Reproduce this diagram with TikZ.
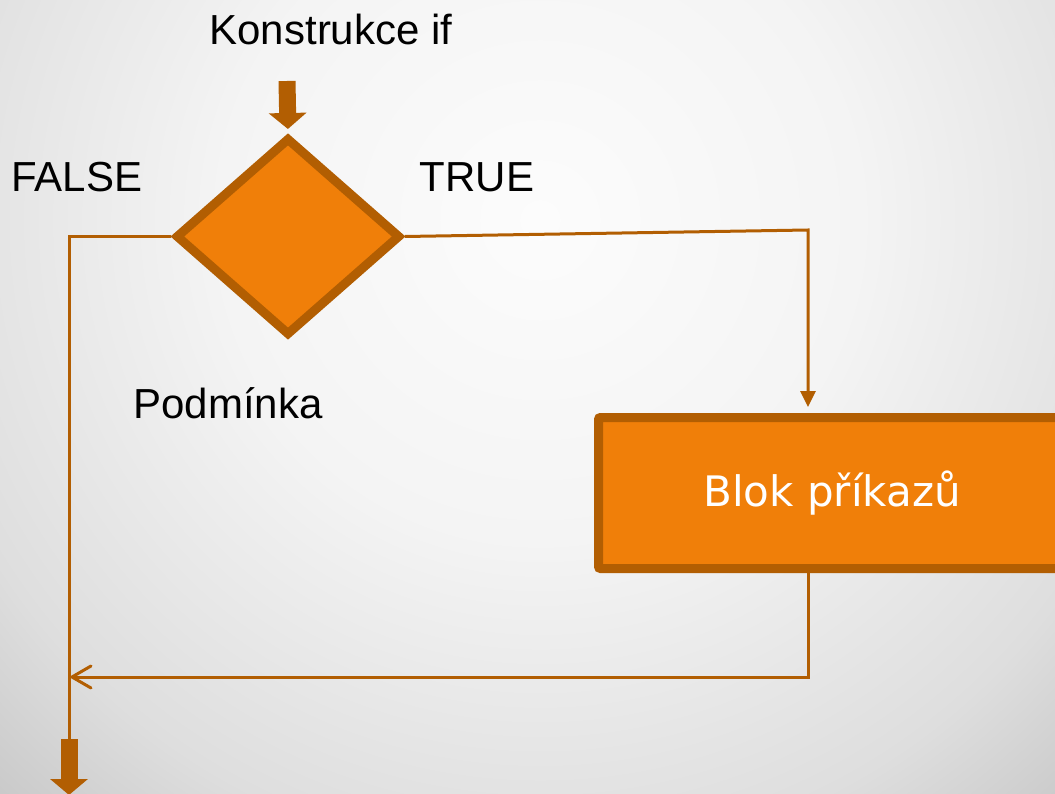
\documentclass[tikz,border=0pt]{standalone}
\usepackage{fontspec}
\setmainfont{Liberation Sans}
\newfontfamily\verdfont{DejaVu Sans}
\usetikzlibrary{shapes.geometric,arrows.meta}
\definecolor{ofill}{RGB}{240,127,9}
\definecolor{odark}{RGB}{178,94,2}
\definecolor{bgA}{RGB}{252,252,252}
\definecolor{bgB}{RGB}{244,244,244}
\definecolor{bgC}{RGB}{222,222,222}
\definecolor{bgD}{RGB}{200,200,200}
\pgfdeclareradialshading{bgshade}{\pgfpointorigin}{color(0bp)=(bgA); color(10bp)=(bgB); color(20bp)=(bgC); color(25bp)=(bgD); color(50bp)=(bgD)}
\pgfdeclarelayer{back}
\pgfdeclarelayer{conn}
\pgfsetlayers{back,conn,main}
\begin{document}
\begin{tikzpicture}[x=1pt,y=-1pt,
  lbl/.style={font=\fontsize{42}{48}\selectfont, inner sep=0pt, anchor=base, text=black},
  decision/.style={diamond, draw=odark, fill=ofill, line width=9pt, inner sep=0pt,
    minimum width=225pt, minimum height=198pt},
  blockbox/.style={rectangle, draw=odark, fill=ofill, line width=9pt, inner sep=0pt,
    rounded corners=2pt, minimum width=467pt, minimum height=151pt,
    text=white, font=\verdfont\fontsize{42}{48}\selectfont},
  thinline/.style={draw=odark, line width=3pt},
  blockarrow/.style={draw=odark, line width=17pt, -{Triangle[width=37pt,length=16pt]}}
]
\useasboundingbox (0,0) rectangle (1055,794);
\begin{pgfonlayer}{back}
  \clip (0,0) rectangle (1055,794);
  \shade[shading=bgshade] (540,220) circle (800);
\end{pgfonlayer}

% nodes
\node[decision] (d) at (288,236.5) {};
\node[blockbox] (b) at (832,493) {Blok příkazů};

% labels
\node[lbl] (tk) at (331,45) {Konstrukce if};
\node[lbl] (tf) at (77,192) {FALSE};
\node[lbl] (tt) at (477,192) {TRUE};
\node[lbl] (tp) at (228,418) {Podmínka};

% coordinates
\coordinate (tin) at (287,81);
\coordinate (tc) at (808,230);
\coordinate (fc) at (69,236.5);
\coordinate (lc) at (808,677);
\coordinate (out) at (69,739);
\coordinate (endp) at (69,795);

\begin{pgfonlayer}{conn}
  \draw[blockarrow, shorten >=4pt] (tin) -- (d.north);
  \draw[thinline] (d.west) -- (fc) -- (out);
  \draw[thinline, shorten >=6pt, -{Triangle[width=15pt,length=16pt]}] (d.east) -- (tc) -- (tc |- b.north);
  \draw[thinline, -{Straight Barb[width=22pt,length=19pt,line cap=round]}] (tc |- b.south) -- (lc) -- (lc -| out);
  \draw[blockarrow] (out) -- (endp);
\end{pgfonlayer}
\end{tikzpicture}
\end{document}
